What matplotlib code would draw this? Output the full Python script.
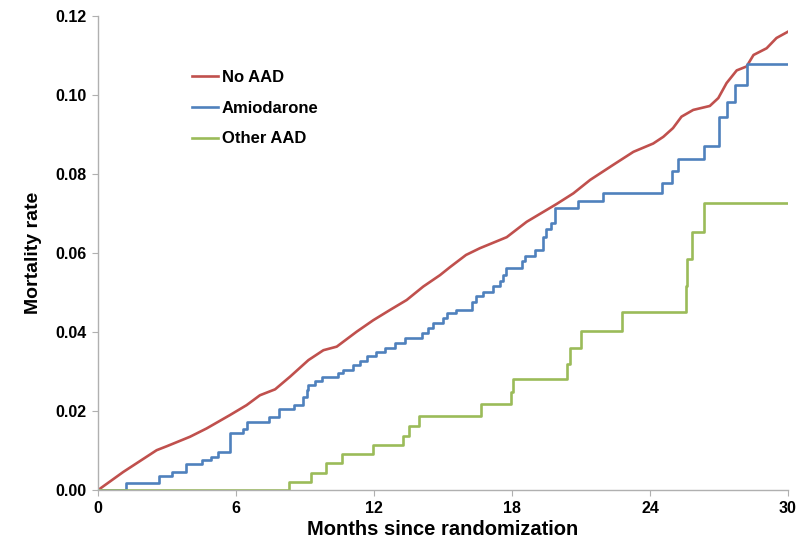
import matplotlib.pyplot as plt

# No AAD
no_aad_month = [0, 1.1, 2.55, 2.99, 4.0, 4.72, 5.74, 6.46, 7.04, 7.7, 8.35, 9.15, 9.8, 10.38,
                11.25, 11.97, 12.7, 13.42, 14.14, 14.87, 15.3, 16.0, 16.6, 17.77, 18.64, 19.94,
                20.67, 21.4, 22.4, 23.28, 24.14, 24.58, 25.0, 25.37, 25.88, 26.6, 26.97, 27.33,
                27.77, 28.2, 28.5, 29.07, 29.5, 30.0]
no_aad_rate = [0, 0.0046, 0.0101, 0.0111, 0.0135, 0.0156, 0.019, 0.0215, 0.024, 0.0255, 0.0287,
               0.0329, 0.0354, 0.0363, 0.0401, 0.043, 0.0456, 0.0481, 0.0515, 0.0544, 0.0564,
               0.0595, 0.0612, 0.064, 0.0679, 0.0724, 0.0751, 0.0785, 0.0823, 0.0856, 0.0877,
               0.0894, 0.0916, 0.0945, 0.0962, 0.0972, 0.0992, 0.103, 0.1062, 0.1072, 0.1101,
               0.1118, 0.1144, 0.116]

# Amiodarone (step times and levels)
amio_month = [0, 1.2, 2.65, 3.2, 3.81, 4.5, 4.9, 5.23, 5.74, 6.32, 6.46, 7.45, 7.85, 8.5, 8.93,
              9.07, 9.15, 9.43, 9.72, 10.45, 10.67, 11.1, 11.39, 11.7, 12.1, 12.48, 12.9, 13.35,
              14.07, 14.36, 14.58, 14.98, 15.19, 15.57, 16.25, 16.42, 16.75, 17.19, 17.48, 17.62,
              17.72, 18.42, 18.57, 19.0, 19.35, 19.48, 19.68, 19.87, 20.88, 21.97, 24.5, 24.97,
              25.23, 26.35, 26.99, 27.36, 27.7, 28.2, 30]
amio_rate = [0, 0.0017, 0.0035, 0.0046, 0.0065, 0.0075, 0.0084, 0.0097, 0.0145, 0.0154, 0.0173,
             0.0186, 0.0204, 0.0215, 0.0236, 0.0253, 0.0266, 0.0277, 0.0287, 0.0297, 0.0305,
             0.0316, 0.0327, 0.0339, 0.035, 0.036, 0.0373, 0.0384, 0.0397, 0.041, 0.0422, 0.0435,
             0.0447, 0.0457, 0.0475, 0.049, 0.0502, 0.0516, 0.0529, 0.0544, 0.0561, 0.058, 0.0592,
             0.0608, 0.0641, 0.066, 0.0677, 0.0713, 0.0732, 0.0753, 0.0778, 0.0808, 0.0837,
             0.0871, 0.0944, 0.0983, 0.1025, 0.1078, 0.1078]

# Other AAD (step times and levels)
other_month = [0, 8.3, 9.25, 9.9, 10.6, 11.94, 13.25, 13.5, 13.96, 16.64, 17.94, 18.05, 20.4,
               20.52, 20.98, 22.8, 25.55, 25.6, 25.84, 26.35, 30]
other_rate = [0, 0.0021, 0.0044, 0.0068, 0.0091, 0.0115, 0.0138, 0.0163, 0.0188, 0.0218, 0.0248,
              0.0281, 0.032, 0.036, 0.0402, 0.045, 0.0516, 0.0585, 0.0654, 0.0726, 0.0726]

x_ticks = [0, 6, 12, 18, 24, 30]
y_ticks = [0, 0.02, 0.04, 0.06, 0.08, 0.10, 0.12]

plt.rcParams['font.family'] = ['Liberation Sans', 'DejaVu Sans']

fig = plt.figure(figsize=(8, 5.47), dpi=100)
ax = fig.add_axes([0.1225, 0.104, 0.8625, 0.867])

ax.plot(no_aad_month, no_aad_rate, color='#C0504D', lw=1.9, label='No AAD')
ax.plot(amio_month, amio_rate, color='#4F81BD', lw=1.9, drawstyle='steps-post', label='Amiodarone')
ax.plot(other_month, other_rate, color='#9BBB59', lw=1.9, drawstyle='steps-post', label='Other AAD')

ax.set_xlim(0, 30)
ax.set_ylim(0, 0.12)
ax.set_xticks(x_ticks)
ax.set_yticks(y_ticks)
ax.set_yticklabels(['%.2f' % v for v in y_ticks])

for s in ['top', 'right']:
    ax.spines[s].set_visible(False)
for s in ['left', 'bottom']:
    ax.spines[s].set_color('#b0b0b0')
    ax.spines[s].set_linewidth(1)
ax.tick_params(direction='out', length=4, color='#b0b0b0', labelsize=11.5, pad=4)
for lab in ax.get_xticklabels() + ax.get_yticklabels():
    lab.set_fontweight('bold')

ax.set_xlabel('Months since randomization', fontsize=14.5, fontweight='bold', labelpad=3)
ax.set_ylabel('Mortality rate', fontsize=14, fontweight='bold', labelpad=10)

ax.legend(loc='upper left', bbox_to_anchor=(0.115, 0.918), frameon=False,
          prop={'weight': 'bold', 'size': 12}, handlelength=1.55, handletextpad=0.2,
          labelspacing=0.95)

fig.savefig('out.png', dpi=100)
